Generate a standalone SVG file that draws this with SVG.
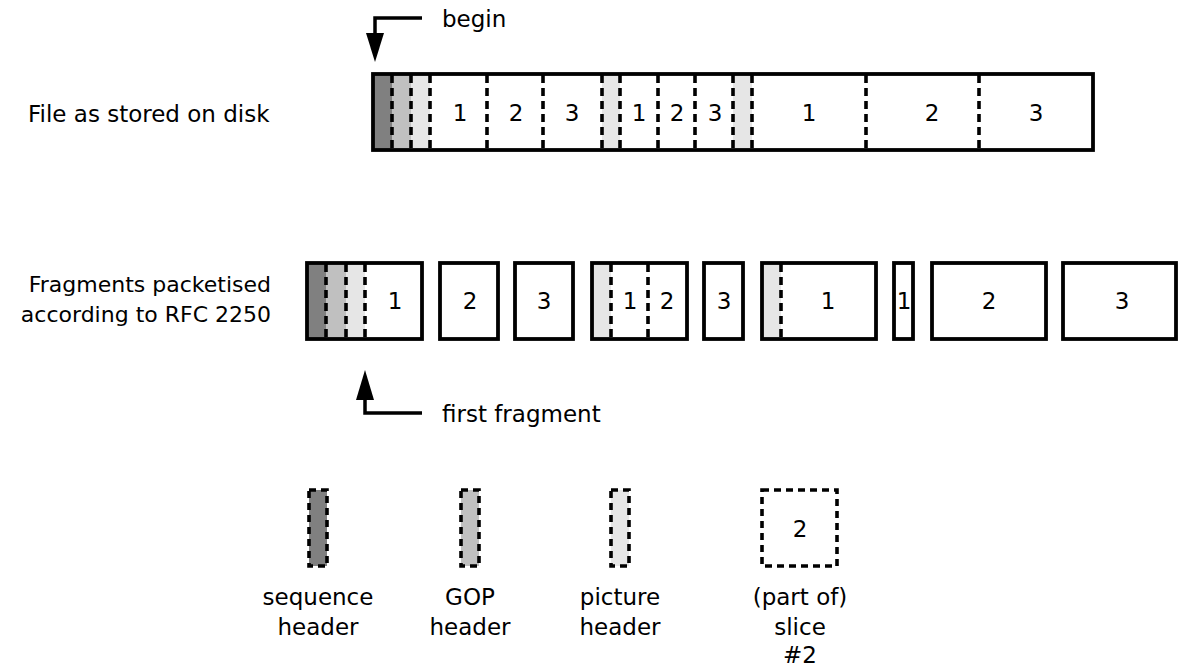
<svg xmlns="http://www.w3.org/2000/svg" width="1178" height="668" viewBox="0 0 1178 668">
<style>
text{font-family:"DejaVu Sans","Liberation Sans",sans-serif;font-size:23px;fill:#000}
.n{text-anchor:middle}
.lbl{font-size:22px;text-anchor:end}
.box{fill:none;stroke:#000;stroke-width:3.8}
.dl{stroke:#000;stroke-width:3.6;stroke-dasharray:8,5;fill:none}
.dr{stroke:#000;stroke-width:3.6;stroke-dasharray:7,5}
.seq{fill:#808080}
.gop{fill:#c0c0c0}
.pic{fill:#e6e6e6}
.arr{fill:none;stroke:#000;stroke-width:3.5}
</style>
<rect width="1178" height="668" fill="#fff"/>
<text x="28" y="122">File as stored on disk</text>
<text class="lbl" x="271" y="292">Fragments packetised</text>
<text class="lbl" x="271" y="322">according to RFC 2250</text>

<g id="file">
<rect class="seq" x="373" y="74" width="19" height="76"/>
<rect class="gop" x="392" y="74" width="19" height="76"/>
<rect class="pic" x="411" y="74" width="19" height="76"/>
<rect class="pic" x="602" y="74" width="18" height="76"/>
<rect class="pic" x="733" y="74" width="19" height="76"/>
<g class="dl">
<line x1="392" y1="75" x2="392" y2="150"/>
<line x1="411" y1="75" x2="411" y2="150"/>
<line x1="430" y1="75" x2="430" y2="150"/>
<line x1="487" y1="75" x2="487" y2="150"/>
<line x1="543" y1="75" x2="543" y2="150"/>
<line x1="602" y1="75" x2="602" y2="150"/>
<line x1="620" y1="75" x2="620" y2="150"/>
<line x1="658" y1="75" x2="658" y2="150"/>
<line x1="695" y1="75" x2="695" y2="150"/>
<line x1="733" y1="75" x2="733" y2="150"/>
<line x1="752" y1="75" x2="752" y2="150"/>
<line x1="866" y1="75" x2="866" y2="150"/>
<line x1="979" y1="75" x2="979" y2="150"/>
</g>
<rect class="box" x="373" y="74" width="720" height="76"/>
<text class="n" x="460" y="121">1</text>
<text class="n" x="516" y="121">2</text>
<text class="n" x="572" y="121">3</text>
<text class="n" x="639" y="121">1</text>
<text class="n" x="677" y="121">2</text>
<text class="n" x="715" y="121">3</text>
<text class="n" x="809" y="121">1</text>
<text class="n" x="932" y="121">2</text>
<text class="n" x="1036" y="121">3</text>
</g>

<g id="frag1">
<rect class="seq" x="307" y="263" width="19" height="76"/>
<rect class="gop" x="326" y="263" width="20" height="76"/>
<rect class="pic" x="346" y="263" width="19" height="76"/>
<g class="dl">
<line x1="326" y1="264" x2="326" y2="339"/>
<line x1="346" y1="264" x2="346" y2="339"/>
<line x1="365" y1="264" x2="365" y2="339"/>
</g>
<rect class="box" x="307" y="263" width="115" height="76"/>
<text class="n" x="395" y="309">1</text>
</g>
<g id="frag2"><rect class="box" x="440" y="263" width="58" height="76"/><text class="n" x="470" y="309">2</text></g>
<g id="frag3"><rect class="box" x="515" y="263" width="58" height="76"/><text class="n" x="544" y="309">3</text></g>
<g id="frag4">
<rect class="pic" x="592" y="263" width="19" height="76"/>
<g class="dl">
<line x1="611" y1="264" x2="611" y2="339"/>
<line x1="648" y1="264" x2="648" y2="339"/>
</g>
<rect class="box" x="592" y="263" width="95" height="76"/>
<text class="n" x="630" y="309">1</text>
<text class="n" x="667" y="309">2</text>
</g>
<g id="frag5"><rect class="box" x="704" y="263" width="39" height="76"/><text class="n" x="724" y="309">3</text></g>
<g id="frag6">
<rect class="pic" x="762" y="263" width="19" height="76"/>
<line class="dl" x1="781" y1="264" x2="781" y2="339"/>
<rect class="box" x="762" y="263" width="114" height="76"/>
<text class="n" x="828" y="309">1</text>
</g>
<g id="frag7"><rect class="box" x="894" y="263" width="19" height="76"/><text class="n" x="904" y="309">1</text></g>
<g id="frag8"><rect class="box" x="932" y="263" width="114" height="76"/><text class="n" x="989" y="309">2</text></g>
<g id="frag9"><rect class="box" x="1063" y="263" width="113" height="76"/><text class="n" x="1122" y="309">3</text></g>

<g id="connectors">
<polyline class="arr" points="422,18 375,18 375,36"/>
<polygon points="366,33 384,33 375,62"/>
<text x="442" y="27">begin</text>
<polyline class="arr" points="422,413 365,413 365,396"/>
<polygon points="356,400 374,400 365,370"/>
<text x="442" y="422">first fragment</text>
</g>

<g id="legend-seq">
<rect class="seq dr" x="309" y="490" width="18" height="76"/>
<text class="n" x="318" y="605">sequence</text>
<text class="n" x="318" y="635">header</text>
</g>
<g id="legend-gop">
<rect class="gop dr" x="461" y="490" width="18" height="76"/>
<text class="n" x="470" y="605">GOP</text>
<text class="n" x="470" y="635">header</text>
</g>
<g id="legend-pic">
<rect class="pic dr" x="611" y="490" width="18" height="76"/>
<text class="n" x="620" y="605">picture</text>
<text class="n" x="620" y="635">header</text>
</g>
<g id="legend-slice">
<rect class="dr" fill="none" x="762" y="490" width="75" height="76"/>
<text class="n" x="800" y="537">2</text>
<text class="n" x="800" y="605">(part of)</text>
<text class="n" x="800" y="635">slice</text>
<text class="n" x="800" y="663">#2</text>
</g>
</svg>
